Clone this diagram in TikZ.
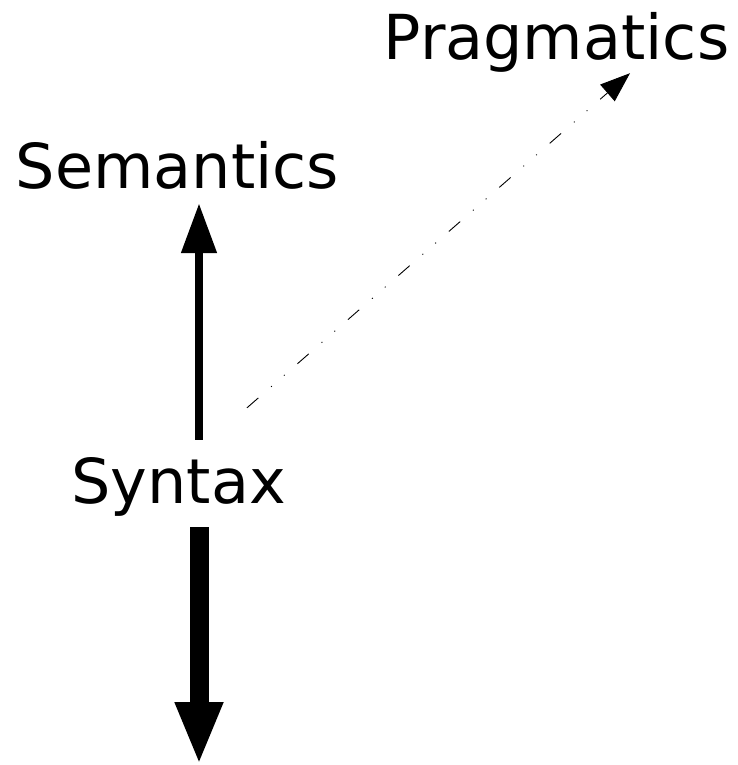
\documentclass[tikz,border=0pt]{standalone}
\usepackage{fontspec}
\setmainfont{DejaVu Sans}
\usetikzlibrary{arrows.meta}

\begin{document}
\begin{tikzpicture}[
  x=1pt, y=-1pt,
  level/.style={
    font=\fontsize{62}{74}\selectfont,
    inner sep=0pt, anchor=base,
    text height=46pt, text depth=15pt
  },
  uparrow/.style={-{Triangle[length=50pt,width=34pt]}, line width=8pt},
  downarrow/.style={-{Triangle[length=63pt,width=44pt]}, line width=19pt},
  hint/.style={-{Triangle[length=30pt,width=22pt]}, line width=0.9pt,
    dash pattern=on 15pt off 17pt on 1pt off 16pt on 1pt off 17pt}
]
  \useasboundingbox (0,0) rectangle (737,765);

  \node[level] (prag) at (556.5,60) {Pragmatics};
  \node[level] (sem) at (177.5,188) {Semantics};
  \node[level] (syn) at (178.5,503) {Syntax};

  \coordinate (axis) at (199,0);
  \coordinate (bottom) at (199,765);

  \draw[uparrow, shorten <=17pt] (syn.north -| axis) -- (sem.south -| axis);
  \draw[downarrow, shorten <=9pt] (syn.south -| bottom) -- (bottom);
  \draw[hint] ([shift={(68.5,-49)}]syn.north) -- ([shift={(73.5,-2)}]prag.south);
\end{tikzpicture}
\end{document}
